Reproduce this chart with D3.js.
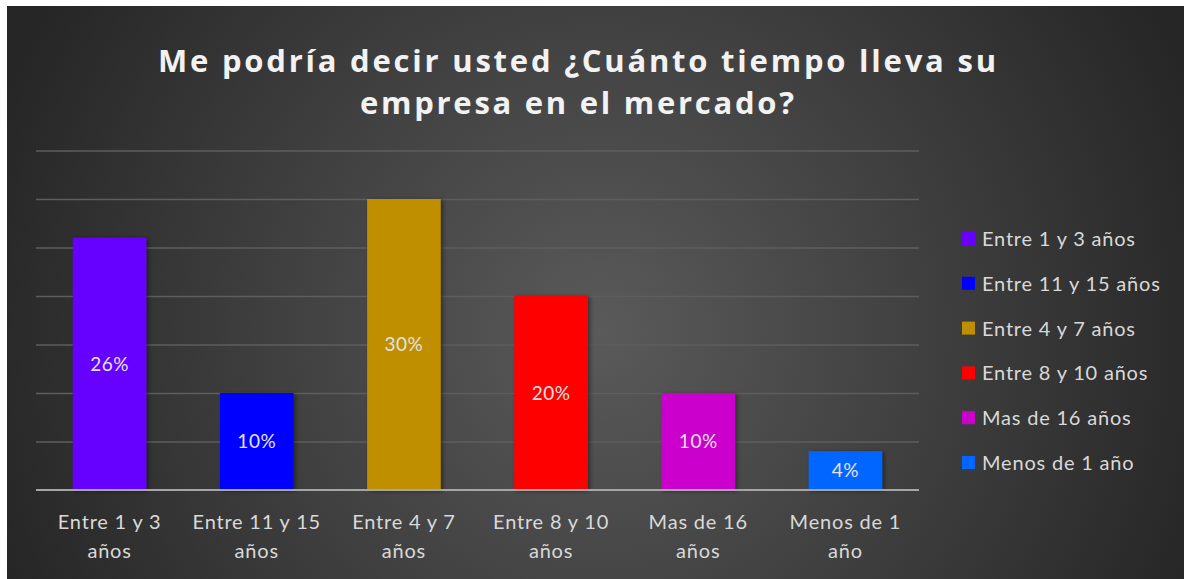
<!DOCTYPE html>
<html lang="es">
<head>
<meta charset="UTF-8">
<title>Tiempo en el mercado</title>
<style>
  html, body { margin: 0; padding: 0; background: #ffffff; }
  svg { display: block; }
</style>
</head>
<body>
<svg id="chart" width="1184" height="579"></svg>

<script src="https://cdn.jsdelivr.net/npm/d3@7"></script>
<script>
// chart data
var categories = ["Entre 1 y 3 años", "Entre 11 y 15 años", "Entre 4 y 7 años",
                  "Entre 8 y 10 años", "Mas de 16 años", "Menos de 1 año"];
var axisLabels = [["Entre 1 y 3", "años"], ["Entre 11 y 15", "años"], ["Entre 4 y 7", "años"],
                  ["Entre 8 y 10", "años"], ["Mas de 16", "años"], ["Menos de 1", "año"]];
var values = [0.26, 0.10, 0.30, 0.20, 0.10, 0.04];
var barColors = ["#6600ff", "#0000ff", "#bf8f00", "#ff0000", "#cc00cc", "#0066ff"];
var gridTicks = [0, 0.05, 0.10, 0.15, 0.20, 0.25, 0.30, 0.35];
var titleLines = ["Me podría decir usted ¿Cuánto tiempo lleva su", "empresa en el mercado?"];
var titleWidths = [838, 434];

var svg = d3.select("#chart");
var bodyFont = "Lato, 'Open Sans', sans-serif";

// background panel with the soft radial light
var defs = svg.append("defs");
var grad = defs.append("radialGradient")
    .attr("id", "bg")
    .attr("gradientUnits", "userSpaceOnUse")
    .attr("cx", 600).attr("cy", 330).attr("r", 640);
grad.append("stop").attr("offset", "0%").attr("stop-color", "#5a5a5a");
grad.append("stop").attr("offset", "100%").attr("stop-color", "#262626");

var shadow = defs.append("filter").attr("id", "shadow")
    .attr("x", "-20%").attr("y", "-20%").attr("width", "140%").attr("height", "140%");
shadow.append("feDropShadow")
    .attr("dx", 2).attr("dy", 1).attr("stdDeviation", 2)
    .attr("flood-color", "#000").attr("flood-opacity", 0.45);

svg.append("rect")
    .attr("x", 7).attr("y", 6)
    .attr("width", 1177).attr("height", 573)
    .attr("fill", "url(#bg)");

// title (stretched to the width of the original)
svg.append("g").selectAll("text")
  .data(titleLines)
  .enter().append("text")
    .attr("x", 577)
    .attr("y", function(d, i){ return 72 + i * 42; })
    .attr("text-anchor", "middle")
    .attr("font-family", "'Open Sans', sans-serif")
    .attr("font-weight", "bold")
    .attr("font-size", 31)
    .attr("textLength", function(d, i){ return titleWidths[i]; })
    .attr("lengthAdjust", "spacing")
    .attr("fill", "#f2f2f2")
    .text(function(d){ return d; });

// scales
var x = d3.scaleBand()
    .domain(categories)
    .range([36, 919])
    .paddingInner(0.5)
    .paddingOuter(0.25);

var y = d3.scaleLinear()
    .domain([0, 0.35])
    .range([490, 150.5]);

// gridlines
var grid = svg.append("g")
    .attr("transform", "translate(36,0)")
    .call(d3.axisLeft(y).tickValues(gridTicks.slice(1)).tickSize(-(919 - 36)).tickFormat(""));
grid.select(".domain").remove();
grid.selectAll(".tick line")
    .attr("stroke", "#5e5e5e")
    .attr("stroke-width", 1.5);

// bars
svg.append("g").selectAll("rect")
  .data(values)
  .enter().append("rect")
    .attr("x", function(d, i){ return x(categories[i]); })
    .attr("y", function(d){ return y(d); })
    .attr("width", x.bandwidth())
    .attr("height", function(d){ return y(0) - y(d); })
    .attr("fill", function(d, i){ return barColors[i]; })
    .attr("filter", "url(#shadow)");

// data labels in the middle of each bar
svg.append("g").selectAll("text")
  .data(values)
  .enter().append("text")
    .attr("x", function(d, i){ return x(categories[i]) + x.bandwidth() / 2; })
    .attr("y", function(d){ return (y(d) + y(0)) / 2; })
    .attr("dy", "0.35em")
    .attr("text-anchor", "middle")
    .attr("font-family", bodyFont)
    .attr("font-size", 19)
    .attr("letter-spacing", 0.5)
    .attr("fill", "#e2e2e2")
    .text(function(d){ return d3.format(".0%")(d); });

// baseline
svg.append("line")
    .attr("x1", 36).attr("x2", 919)
    .attr("y1", y(0)).attr("y2", y(0))
    .attr("stroke", "#a6a6a6")
    .attr("stroke-width", 2);

// category labels, two lines each
var xl = svg.append("g").selectAll("text")
  .data(categories)
  .enter().append("text")
    .attr("x", function(d){ return x(d) + x.bandwidth() / 2; })
    .attr("y", 529)
    .attr("text-anchor", "middle")
    .attr("font-family", bodyFont)
    .attr("font-size", 20)
    .attr("letter-spacing", 0.8)
    .attr("fill", "#d9d9d9");
xl.selectAll("tspan")
  .data(function(d, i){ return axisLabels[i]; })
  .enter().append("tspan")
    .attr("x", function(){ var c = d3.select(this.parentNode).datum(); return x(c) + x.bandwidth() / 2; })
    .attr("dy", function(d, i){ return i == 0 ? 0 : 29; })
    .text(function(d){ return d; });

// legend
var legend = svg.append("g").selectAll("g")
  .data(categories)
  .enter().append("g")
    .attr("transform", function(d, i){ return "translate(962," + (239 + i * 44.8) + ")"; });
legend.append("rect")
    .attr("x", 0).attr("y", -7)
    .attr("width", 13).attr("height", 13)
    .attr("fill", function(d, i){ return barColors[i]; });
legend.append("text")
    .attr("x", 20)
    .attr("dy", "0.35em")
    .attr("font-family", bodyFont)
    .attr("font-size", 20)
    .attr("letter-spacing", 0.8)
    .attr("fill", "#d9d9d9")
    .text(function(d){ return d; });
</script>
</body>
</html>
